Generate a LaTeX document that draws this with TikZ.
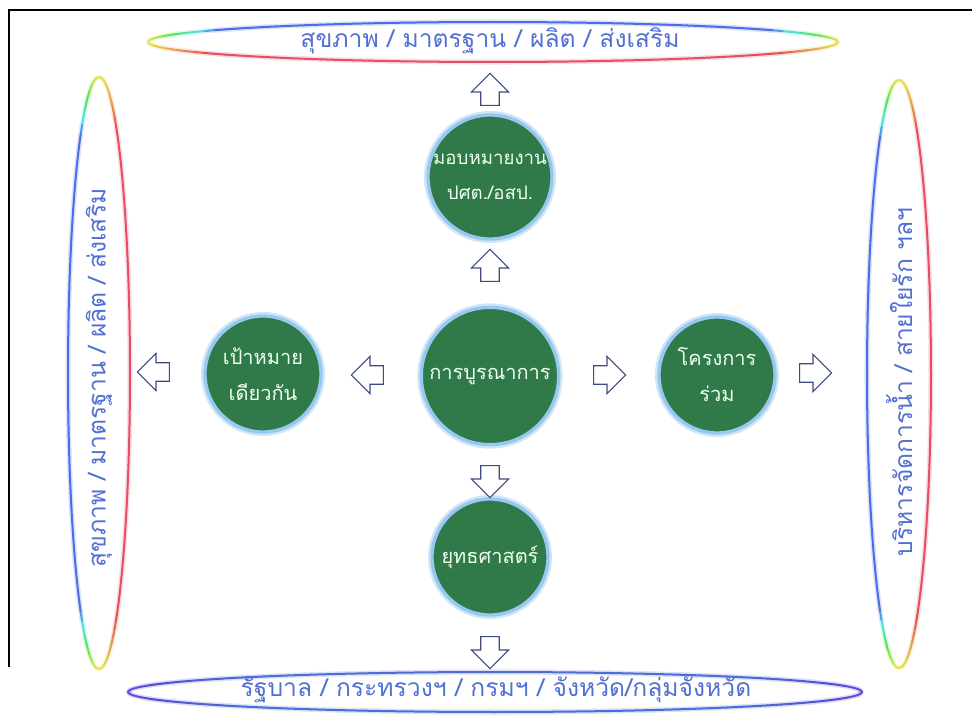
\documentclass[tikz,border=0pt]{standalone}
\usepackage{fontspec}
\newfontfamily\thai[Script=Thai]{Loma}
\usetikzlibrary{shapes.arrows,shapes.geometric}
\definecolor{cgreen}{RGB}{47,122,72}
\definecolor{cglow}{RGB}{150,200,240}
\definecolor{ctext}{RGB}{82,112,210}
\definecolor{carrow}{RGB}{62,74,128}
% #1 cx, #2 cy, #3 rx, #4 ry, #5 mode (0 horizontal, 1 vertical)
\newcommand\rbell[5]{%
  \foreach \ang in {0,3,...,357}{%
    \pgfmathsetmacro\ta{\ang}%
    \pgfmathsetmacro\tb{\ang+3}%
    \pgfmathsetmacro\am{\ang+1.5}%
    \pgfmathsetmacro\side{ifthenelse(#5==0,sin(\am),-cos(\am))}%
    \pgfmathsetmacro\cc{ifthenelse(#5==0,abs(cos(\am)),abs(sin(\am)))}%
    \pgfmathsetmacro\ff{max(0,(\cc-0.8)/0.2)}%
    \pgfmathsetmacro\h{ifthenelse(\side>=0,228-168*\ff,350+70*\ff)}%
    \pgfmathsetmacro\hh{mod(\h,360)}%
    \definecolor{segc}{Hsb}{\hh,0.66,0.9}%
    \draw[segc,line width=3.8pt,opacity=0.2] ({#1+#3*cos(\ta)},{#2-#4*sin(\ta)}) -- ({#1+#3*cos(\tb)},{#2-#4*sin(\tb)});
    \draw[segc,line width=1.5pt,line cap=round] ({#1+#3*cos(\ta)},{#2-#4*sin(\ta)}) -- ({#1+#3*cos(\tb)},{#2-#4*sin(\tb)});
  }}
\newcommand\blell[4]{%
  \foreach \ang in {0,3,...,357}{%
    \pgfmathsetmacro\ta{\ang}%
    \pgfmathsetmacro\tb{\ang+3}%
    \pgfmathsetmacro\hh{226+30*abs(cos(\ang+1.5))^8}%
    \definecolor{segc}{Hsb}{\hh,0.65,0.85}%
    \draw[segc,line width=3.8pt,opacity=0.2] ({#1+#3*cos(\ta)},{#2-#4*sin(\ta)}) -- ({#1+#3*cos(\tb)},{#2-#4*sin(\tb)});
    \draw[segc,line width=1.5pt,line cap=round] ({#1+#3*cos(\ta)},{#2-#4*sin(\ta)}) -- ({#1+#3*cos(\tb)},{#2-#4*sin(\tb)});
  }}
\tikzset{
  bubble/.style={circle, fill=cgreen, draw=cglow, line width=2.5pt,
    preaction={draw=cglow!45, line width=6pt},
    text=white!94!green, font=\thai\fontsize{15}{27}\selectfont, align=center, inner sep=0pt},
  blockarrow/.style={single arrow, draw=carrow, fill=white, line width=0.9pt,
    minimum height=24pt, minimum width=27pt, single arrow head extend=7pt,
    inner sep=6.5pt, anchor=center},
  ringtext/.style={text=ctext, font=\thai\fontsize{18.5}{22}\selectfont, inner sep=0pt}
}
\begin{document}
\begin{tikzpicture}[x=0.75pt,y=-0.75pt]
\useasboundingbox (0,0) rectangle (972,717);
% frame
\draw[line width=1.4pt] (9,667) -- (9,10) -- (972,10);
% outer rings
\rbell{493}{42}{345}{20}{0}
\blell{495}{692}{367}{20}
\rbell{99}{373}{31}{296}{1}
\rbell{899}{374}{32}{294}{1}
\node[ringtext] (topE) at (490,41) {สุขภาพ / มาตรฐาน / ผลิต / ส่งเสริม};
\node[ringtext] (botE) at (496,690) {รัฐบาล / กระทรวงฯ / กรมฯ / จังหวัด/กลุ่มจังหวัด};
\node[ringtext, rotate=90] (leftE) at (99,378) {สุขภาพ / มาตรฐาน / ผลิต / ส่งเสริม};
\node[ringtext, rotate=90] (rightE) at (899,382) {บริหารจัดการน้ำ / สายใยรัก ฯลฯ};
% circles
\node[bubble, minimum size=103pt] (cc) at (490,376) {การบูรณาการ};
\node[bubble, minimum size=87pt] (cl) at (263,374) {เป้าหมาย\\เดียวกัน};
\node[bubble, minimum size=87pt] (cr) at (717,375) {โครงการ\\ร่วม};
\node[bubble, minimum size=93pt, font=\thai\fontsize{14}{26}\selectfont] (ct) at (490,177) {มอบหมายงาน\\ปศต./อสป.};
\node[bubble, minimum size=87pt] (cb) at (490,557) {ยุทธศาสตร์};
% block arrows
\node[blockarrow, shape border rotate=90] (a1) at (490,94) {};
\node[blockarrow, shape border rotate=90] (a2) at (490,270) {};
\node[blockarrow, shape border rotate=270] (a3) at (490,477) {};
\node[blockarrow, shape border rotate=270] (a4) at (490,648) {};
\node[blockarrow, shape border rotate=180] (a5) at (372,375) {};
\node[blockarrow, shape border rotate=180] (a6) at (158,372) {};
\node[blockarrow] (a7) at (605,375) {};
\node[blockarrow] (a8) at (811,373) {};
\end{tikzpicture}
\end{document}
